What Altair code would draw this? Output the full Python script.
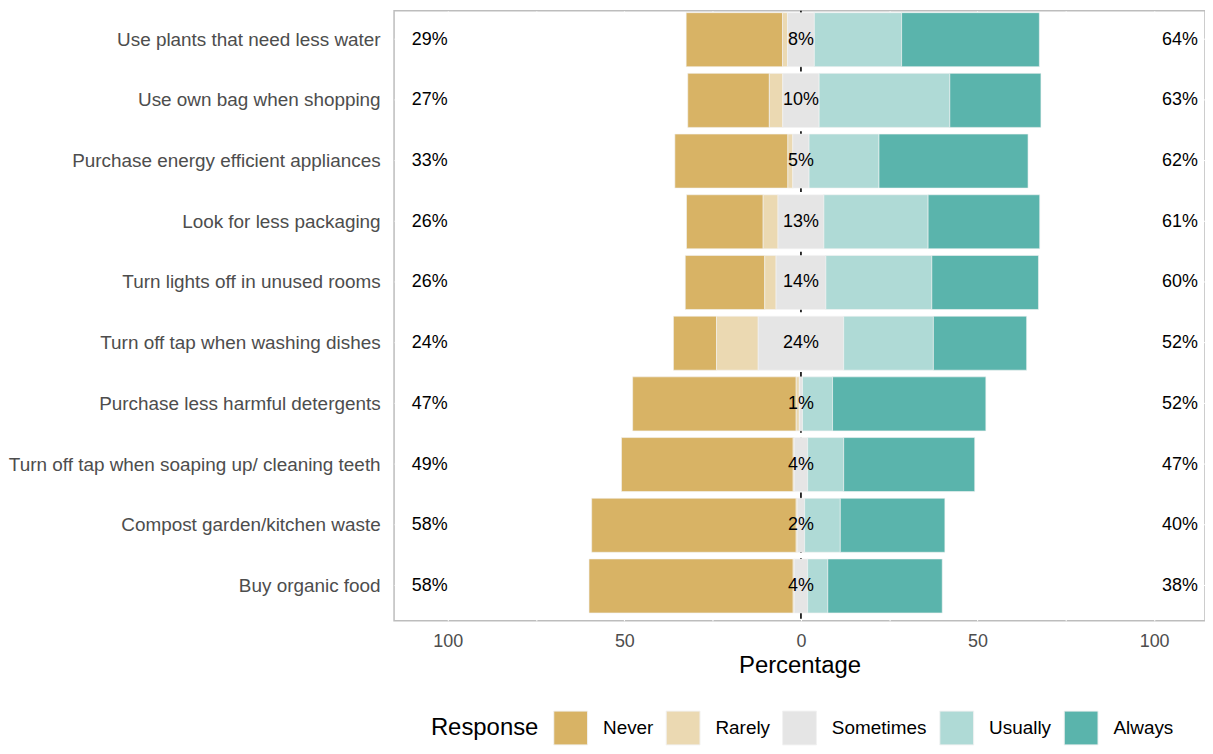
import altair as alt
import pandas as pd

items = [
    "Use plants that need less water",
    "Use own bag when shopping",
    "Purchase energy efficient appliances",
    "Look for less packaging",
    "Turn lights off in unused rooms",
    "Turn off tap when washing dishes",
    "Purchase less harmful detergents",
    "Turn off tap when soaping up/ cleaning teeth",
    "Compost garden/kitchen waste",
    "Buy organic food",
]
responses = ["Never", "Rarely", "Sometimes", "Usually", "Always"]
colors = ["#D8B365", "#EBD9B2", "#E5E5E5", "#AFDAD6", "#5AB4AC"]

never = [27.3, 23.1, 32.0, 21.7, 22.5, 12.2, 46.3, 48.6, 57.9, 57.8]
rarely = [1.4, 3.8, 1.4, 4.2, 3.2, 11.8, 0.9, 0.3, 0.3, 0.3]
sometimes = [7.6, 10.3, 4.6, 13.0, 14.1, 24.2, 0.9, 3.8, 2.1, 3.8]
usually = [24.7, 37.0, 19.8, 29.5, 30.0, 25.4, 8.5, 10.2, 10.1, 5.7]
always = [39.0, 25.8, 42.2, 31.6, 30.2, 26.4, 43.4, 37.1, 29.6, 32.4]

# build diverging segments
rows = []
labels = []
for i, it in enumerate(items):
    n, r, s, u, a = never[i], rarely[i], sometimes[i], usually[i], always[i]
    h = s / 2.0
    segs = [
        ("Never", -h - r - n, -h - r),
        ("Rarely", -h - r, -h),
        ("Sometimes", -h, h),
        ("Usually", h, h + u),
        ("Always", h + u, h + u + a),
    ]
    for resp, x0, x1 in segs:
        rows.append({"item": it, "response": resp, "start": x0, "end": x1})
    labels.append({
        "item": it,
        "low": f"{int(round(n + r))}%",
        "mid": f"{int(round(s))}%",
        "high": f"{int(round(u + a))}%",
    })

df = pd.DataFrame(rows)
lab = pd.DataFrame(labels)

FONT = "Liberation Sans"

xscale = alt.Scale(domain=[-115.2, 114.4], nice=False, zero=False)
yscale = alt.Scale(paddingInner=0.11, paddingOuter=0.0795, align=0.19)

xaxis = alt.Axis(
    title="Percentage",
    values=list(range(-100, 101, 25)),
    labelExpr="abs(datum.value) % 50 == 0 ? format(abs(datum.value), 'd') : ''",
    ticks=False, tickSize=0, domain=False,
    grid=True, gridColor="white", gridWidth=1,
    labelFont=FONT, labelFontSize=18, labelColor="#4D4D4D", labelPadding=12,
    titleFont=FONT, titleFontSize=24, titleFontWeight="normal", titleColor="black",
    titlePadding=3,
)
yaxis = alt.Axis(
    title=None, ticks=False, tickSize=0, domain=False,
    grid=True, gridColor="white", gridWidth=1, bandPosition=0.5,
    labelFont=FONT, labelFontSize=19, labelColor="#4D4D4D", labelPadding=14,
    labelLimit=500,
)

zero_rule = alt.Chart(pd.DataFrame({"z": [0]})).mark_rule(
    color="black", strokeDash=[6, 5], strokeWidth=1.6
).encode(x=alt.X("z:Q", scale=xscale, axis=xaxis))

bars = alt.Chart(df).mark_bar(stroke="#f4f4f4", strokeWidth=0.6).encode(
    x=alt.X("start:Q", scale=xscale, axis=xaxis),
    x2="end:Q",
    y=alt.Y("item:N", sort=items, scale=yscale, axis=yaxis),
    color=alt.Color(
        "response:N",
        scale=alt.Scale(domain=responses, range=colors),
        legend=alt.Legend(
            title="Response", orient="none", direction="horizontal",
            legendX=37, legendY=703,
            titleOrient="left", titleFont=FONT, titleFontSize=24,
            titleFontWeight="normal", titleColor="black", titlePadding=14,
            titleBaseline="middle", titleAnchor="middle",
            labelFont=FONT, labelFontSize=19, labelColor="black",
            labelOffset=15, columnPadding=10,
            symbolType="square", symbolSize=34 * 34,
            symbolStrokeColor="#F2F2F2", symbolStrokeWidth=1, symbolOpacity=1,
        ),
    ),
    order=alt.Order("start:Q"),
)

txt_common = dict(fontSize=18, font=FONT, color="black", baseline="middle")

low_txt = alt.Chart(lab).mark_text(align="left", **txt_common).encode(
    x=alt.datum(-110.2), y=alt.Y("item:N", sort=items, scale=yscale, axis=yaxis),
    text="low:N",
)
high_txt = alt.Chart(lab).mark_text(align="right", **txt_common).encode(
    x=alt.datum(112.4), y=alt.Y("item:N", sort=items, scale=yscale, axis=yaxis),
    text="high:N",
)
mid_txt = alt.Chart(lab).mark_text(align="center", **txt_common).encode(
    x=alt.datum(0), y=alt.Y("item:N", sort=items, scale=yscale, axis=yaxis),
    text="mid:N",
)

chart = alt.layer(zero_rule, bars, low_txt, high_txt, mid_txt).properties(
    width=815, height=613, padding=0
).configure_view(stroke="#BDBDBD", strokeWidth=1.5)

chart.save("out.html", embed_options={"renderer": "svg", "actions": False})
